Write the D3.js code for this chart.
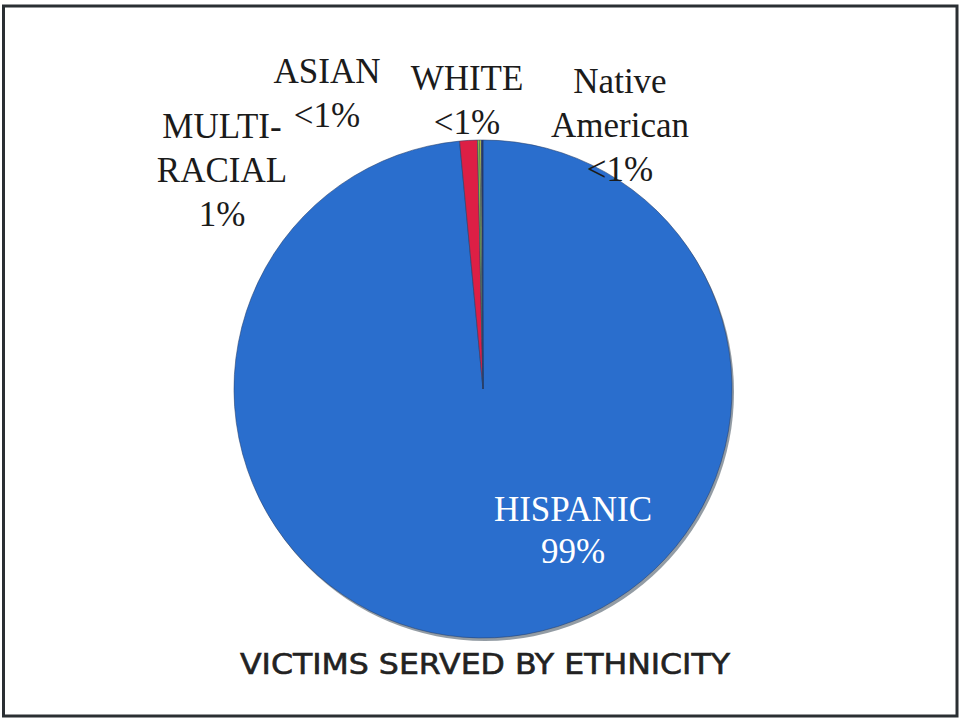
<!DOCTYPE html>
<html>
<head>
<meta charset="utf-8">
<script src="https://cdn.jsdelivr.net/npm/d3@7"></script>
<style>
  body { margin: 0; background: #fff; }
  svg { display: block; }
</style>
</head>
<body>
<div id="chart"></div>
<script>
// ethnicity pie
var categories = ["HISPANIC", "MULTI-RACIAL", "ASIAN", "WHITE", "Native American"];
var values = [98.5, 1.15, 0.15, 0.1, 0.1];
var valueLabels = ["99%", "1%", "<1%", "<1%", "<1%"];
var title = "VICTIMS SERVED BY ETHNICITY";

var colors = ["#2a6ecd", "#dd1f45", "#8cc63e", "#d9dc48", "#27346e"];

// label lines and where each label block sits
var labelLines = [
  ["HISPANIC"],
  ["MULTI-", "RACIAL"],
  ["ASIAN"],
  ["WHITE"],
  ["Native", "American"]
];
var labelPos = [
  {x: 573, y: 521, fill: "#ffffff"},
  {x: 222, y: 138, fill: "#1b1b1b"},
  {x: 327, y: 83, fill: "#1b1b1b"},
  {x: 467, y: 90, fill: "#1b1b1b"},
  {x: 620, y: 93, fill: "#1b1b1b"}
];

var width = 961, height = 720;
var cx = 483, cy = 389, radius = 249;

var svg = d3.select("#chart").append("svg")
    .attr("width", width)
    .attr("height", height);

// frame
svg.append("rect")
    .attr("x", 3.5).attr("y", 6)
    .attr("width", 953.5).attr("height", 710)
    .attr("fill", "#fff")
    .attr("stroke", "#2a2f33")
    .attr("stroke-width", 3);

var pie = d3.pie().sort(null).value(function(d) { return d; });
var arc = d3.arc().innerRadius(0).outerRadius(radius);
var arcs = pie(values);

var g = svg.append("g")
    .attr("transform", "translate(" + cx + "," + cy + ")");

// soft shadow on the lower right edge
g.append("circle")
    .attr("cx", 2).attr("cy", 3)
    .attr("r", radius)
    .attr("fill", "#3a4a5a")
    .attr("opacity", 0.55);

g.selectAll("path.slice")
    .data(arcs)
  .enter().append("path")
    .attr("class", "slice")
    .attr("d", arc)
    .attr("fill", function(d, i) { return colors[i]; })
    .attr("stroke", "#27406b")
    .attr("stroke-opacity", 0.7)
    .attr("stroke-width", 0.8);

// labels
var lineH = 44;
var labels = svg.append("g")
    .attr("font-family", "'Liberation Serif', 'Times New Roman', serif")
    .attr("font-size", 35)
    .attr("text-anchor", "middle");

categories.forEach(function(c, i) {
  var p = labelPos[i];
  var lines = labelLines[i].concat([valueLabels[i]]);
  var t = labels.append("text")
      .attr("x", p.x)
      .attr("y", p.y)
      .attr("fill", p.fill);
  lines.forEach(function(l, j) {
    t.append("tspan")
      .attr("x", p.x)
      .attr("dy", j === 0 ? 0 : (i === 0 ? 42 : lineH))
      .text(l);
  });
});

// title
svg.append("text")
    .attr("x", 485)
    .attr("y", 674)
    .attr("text-anchor", "middle")
    .attr("font-family", "'DejaVu Sans', sans-serif")
    .attr("font-size", 28)
    .attr("fill", "#222")
    .attr("stroke", "#222")
    .attr("stroke-width", 0.6)
    .attr("textLength", 490)
    .attr("lengthAdjust", "spacingAndGlyphs")
    .text(title);
</script>
</body>
</html>
